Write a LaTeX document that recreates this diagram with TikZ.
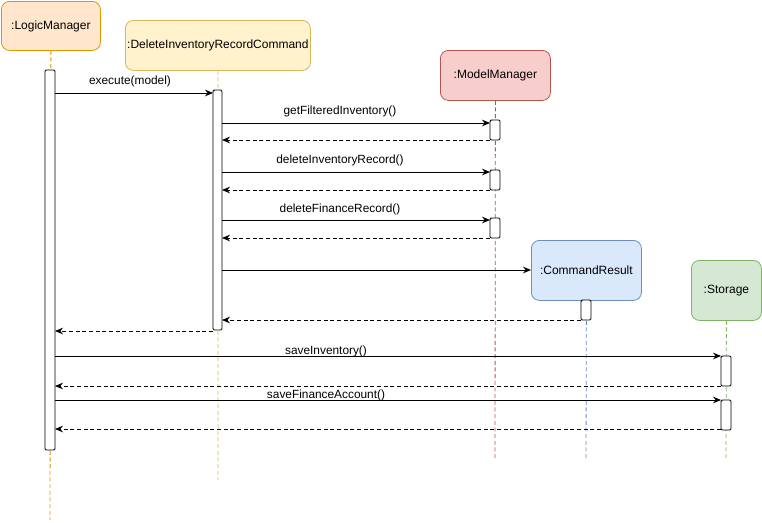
\documentclass[tikz,border=0pt]{standalone}
\usepackage{fontspec}
\setmainfont{Liberation Sans}
\usetikzlibrary{arrows.meta}
\definecolor{orF}{HTML}{FFE6CC}\definecolor{orD}{HTML}{D79B00}
\definecolor{yeF}{HTML}{FFF2CC}\definecolor{yeD}{HTML}{D6B656}
\definecolor{reF}{HTML}{F8CECC}\definecolor{reD}{HTML}{B85450}
\definecolor{blF}{HTML}{DAE8FC}\definecolor{blD}{HTML}{6C8EBF}
\definecolor{grF}{HTML}{D5E8D4}\definecolor{grD}{HTML}{82B366}
\begin{document}
\begin{tikzpicture}[x=0.75pt,y=-0.75pt,
  obj/.style={draw,rounded corners=6pt,line width=0.6pt,anchor=north west,inner sep=0pt,font=\fontsize{9}{11}\selectfont},
  life/.style={dashed,dash pattern=on 3pt off 2pt,line width=0.6pt},
  act/.style={draw=black,fill=white,line width=0.7pt,rounded corners=1pt},
  msg/.style={line width=0.7pt,-{Stealth[length=6pt,width=5pt,inset=2pt]}},
  ret/.style={msg,dashed,dash pattern=on 3pt off 2pt},
  lbl/.style={font=\fontsize{8.9}{10}\selectfont,inner sep=0pt}]
\useasboundingbox (0,0) rectangle (762,522);
% objects
\node[obj,fill=orF,draw=orD,minimum width=74.25pt,minimum height=36.75pt] (lm) at (1,1) {:LogicManager};
\node[obj,fill=yeF,draw=yeD,minimum width=138.75pt,minimum height=37.5pt] (dc) at (125,20) {:DeleteInventoryRecordCommand};
\node[obj,fill=reF,draw=reD,minimum width=82.5pt,minimum height=37.5pt] (mm) at (440,50) {:ModelManager};
\node[obj,fill=blF,draw=blD,minimum width=82.5pt,minimum height=45pt] (cr) at (531,240) {:CommandResult};
\node[obj,fill=grF,draw=grD,minimum width=52.5pt,minimum height=45pt] (st) at (691,260) {:Storage};
% lifelines
\coordinate (lmE) at (50,520); \coordinate (dcE) at (218,480);
\coordinate (mmE) at (495,460); \coordinate (crE) at (586,460); \coordinate (stE) at (726,460);
\draw[life,draw=orD] (lm.south) -- (lmE);
\draw[life,draw=yeD] (dc.south) -- (dcE);
\draw[life,draw=reD] (mm.south) -- (mmE);
\draw[life,draw=blD] (cr.south) -- (crE);
\draw[life,draw=grD] (st.south) -- (stE);
% activations
\draw[act] (45,70) rectangle (55,450);
\draw[act] (213,90) rectangle (222,330);
\draw[act] (490,120) rectangle (500,140);
\draw[act] (490,170) rectangle (500,190);
\draw[act] (490,218) rectangle (500,238);
\draw[act] (581,300) rectangle (591,320);
\draw[act] (721,356) rectangle (731,386);
\draw[act] (721,400) rectangle (731,430);
% message points
\foreach \n/\x/\y in {a1/55/93,a2/213/93,
  b1/222/123,b2/490/123,b3/490/140,b4/222/140,
  c1/222/172,c2/490/172,c3/490/190,c4/222/190,
  d1/222/220,d2/490/220,d3/490/238,d4/222/238,
  e1/222/270,
  f1/581/320,f2/222/320,
  g1/213/331,g2/55/331,
  h1/55/356,h2/721/356,h3/721/386,h4/55/386,
  i1/55/400,i2/721/400,i3/721/429,i4/55/429}
  {\coordinate (\n) at (\x,\y);}
\draw[msg] (a1) -- (a2);
\node[lbl] (la) at (130,81) {execute(model)};
\draw[msg] (b1) -- (b2); \draw[ret] (b3) -- (b4);
\node[lbl] (lb) at (340,111) {getFilteredInventory()};
\draw[msg] (c1) -- (c2); \draw[ret] (c3) -- (c4);
\node[lbl] (lc) at (340,160) {deleteInventoryRecord()};
\draw[msg] (d1) -- (d2); \draw[ret] (d3) -- (d4);
\node[lbl] (ld) at (340,209) {deleteFinanceRecord()};
\draw[msg] (e1) -- (cr.west |- e1);
\draw[ret] (f1) -- (f2);
\draw[ret] (g1) -- (g2);
\draw[msg] (h1) -- (h2); \draw[ret] (h3) -- (h4);
\node[lbl] (lh) at (326,351) {saveInventory()};
\draw[msg] (i1) -- (i2); \draw[ret] (i3) -- (i4);
\node[lbl] (li) at (326,395) {saveFinanceAccount()};
\end{tikzpicture}
\end{document}
